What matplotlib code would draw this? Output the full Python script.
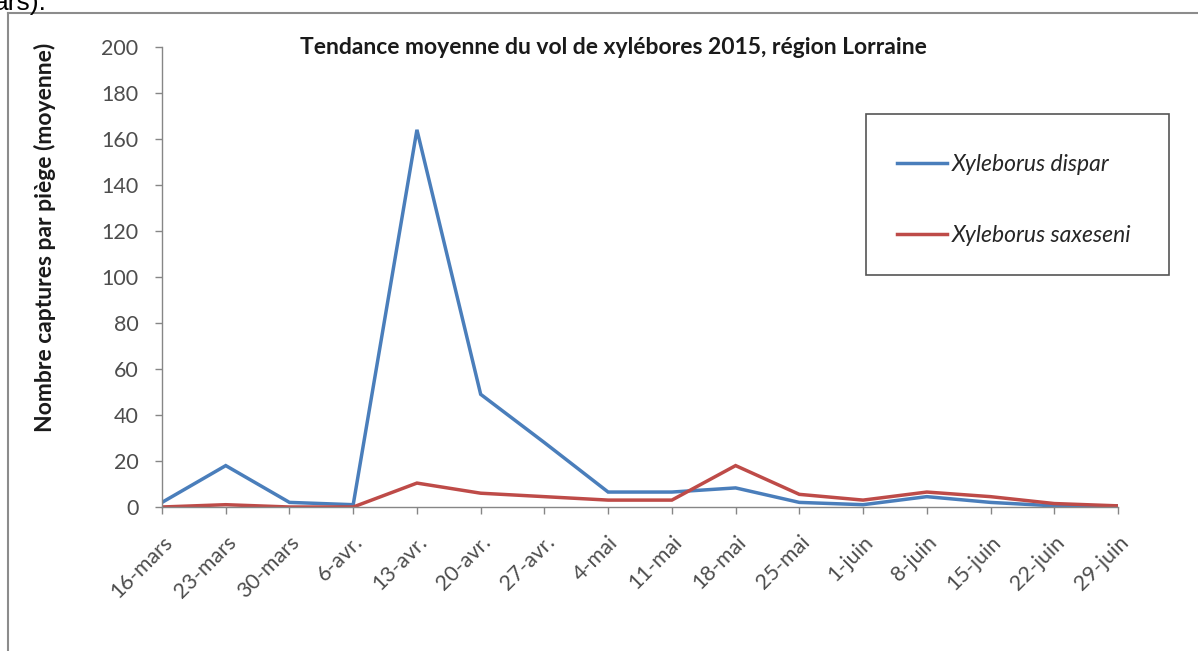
import matplotlib
matplotlib.use("Agg")
import matplotlib.pyplot as plt
from matplotlib.patches import Rectangle
from matplotlib.lines import Line2D

W, H = 1198, 651

# Dates de relevé et captures moyennes par piège
dates = ["16-mars", "23-mars", "30-mars", "6-avr.", "13-avr.", "20-avr.", "27-avr.",
         "4-mai", "11-mai", "18-mai", "25-mai", "1-juin", "8-juin", "15-juin",
         "22-juin", "29-juin"]
dispar = [2, 18, 2, 1, 164, 49, 28, 6.5, 6.5, 8.3, 2, 1, 4.5, 2, 0.5, 0.5]
saxeseni = [0, 1, 0, 0, 10.4, 6, 4.5, 3, 3, 18, 5.5, 3, 6.5, 4.5, 1.5, 0.5]
yticks = list(range(0, 201, 20))

plt.rcParams["font.family"] = ["Lato", "DejaVu Sans"]

fig = plt.figure(figsize=(W / 100, H / 100), dpi=100)


def fx(px):
    return px / W


def fy(py):
    return 1 - py / H


ax = fig.add_axes([fx(162), fy(507), fx(1118) - fx(162), fy(47) - fy(507)])

x = list(range(len(dates)))
ax.plot(x, dispar, color="#4A7EBB", lw=2.5, solid_joinstyle="miter", label="Xyleborus dispar")
ax.plot(x, saxeseni, color="#BE4B48", lw=2.5, solid_joinstyle="miter", label="Xyleborus saxeseni")

ax.set_xlim(0, len(dates) - 1)
ax.set_ylim(0, 200)
ax.set_yticks(yticks)
ax.set_xticks(x)
ax.set_xticklabels(dates, rotation=45, ha="right", rotation_mode="anchor")

for s in ["top", "right"]:
    ax.spines[s].set_visible(False)
for s in ["left", "bottom"]:
    ax.spines[s].set_color("#868686")
    ax.spines[s].set_linewidth(1)
ax.tick_params(axis="both", colors="#868686", labelcolor="#4d4d4d", labelsize=15.5,
               length=5, width=1)
ax.tick_params(axis="y", pad=12)
ax.tick_params(axis="x", pad=13)

fig.text(fx(613), fy(47), "Tendance moyenne du vol de xylébores 2015, région Lorraine",
         ha="center", va="center", fontsize=16.5, fontweight="bold", color="#1a1a1a")
fig.text(fx(45), fy(237), "Nombre captures par piège (moyenne)", rotation=90,
         ha="center", va="center", fontsize=16.5, fontweight="bold", color="#1a1a1a")

# cadre de la légende
fig.patches.append(Rectangle((fx(866), fy(275)), fx(1169) - fx(866), fy(114) - fy(275),
                             transform=fig.transFigure, fill=False, ec="#555555", lw=1.2))
leg = fig.legend(loc="upper left", bbox_to_anchor=(fx(897), fy(154)), frameon=False,
                 prop={"style": "italic", "size": 16.5}, handlelength=2.2,
                 handletextpad=0.2, labelspacing=2.2, borderpad=0, borderaxespad=0)
for t in leg.get_texts():
    t.set_color("#262626")

# bord de la page autour du graphique
fig.add_artist(Line2D([fx(8), 1], [fy(13), fy(13)], color="#8c8c8c", lw=1.5,
                      transform=fig.transFigure))
fig.add_artist(Line2D([fx(8), fx(8)], [fy(13), 0], color="#8c8c8c", lw=1.5,
                      transform=fig.transFigure))
fig.text(fx(-6), fy(10), "ars).", ha="left", va="baseline", fontsize=19,
         family="Liberation Sans", color="black")

fig.savefig("out.png", dpi=100, facecolor="white")
